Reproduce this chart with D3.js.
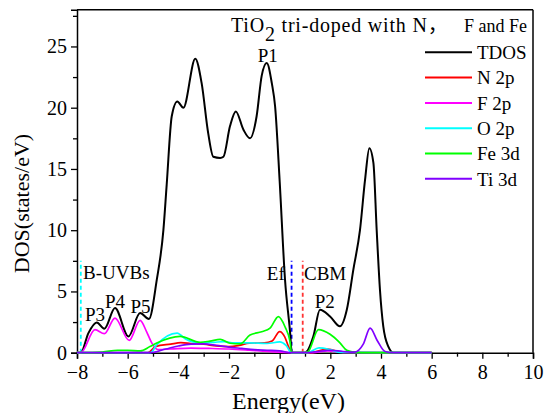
<!DOCTYPE html>
<html>
<head>
<meta charset="utf-8">
<script src="https://cdn.jsdelivr.net/npm/d3@7"></script>
<style>
  html, body { margin: 0; padding: 0; background: #fff; }
  svg { display: block; }
  text { font-family: "Liberation Serif", "Times New Roman", serif; fill: #000; }
  .cjk { font-family: "Noto Sans CJK SC", sans-serif; }
</style>
</head>
<body>
<svg id="chart" width="546" height="413"></svg>
<script>
// Density of states of TiO2 tri-doped with N, F and Fe
const tdosE = [-8, -7.85, -7.55, -7.22, -6.92, -6.5, -5.97, -5.51, -5.16, -4.85, -4.59, -4.46, -4.26, -4.04, -3.8, -3.33, -3.08, -2.82, -2.62, -2.35, -2.22, -1.96, -1.73, -1.43, -1.17, -0.91, -0.71, -0.51, -0.31, -0.18, 0.0, 0.21, 0.41, 0.48, 0.91, 1.0, 1.33, 1.59, 1.99, 2.38, 2.65, 2.91, 3.17, 3.37, 3.54, 3.7, 3.83, 3.96, 4.09, 4.29, 4.5, 6];
const tdosV = [0, 0, 1.6, 2.47, 1.96, 3.65, 1.33, 3.24, 2.75, 5.96, 10.0, 13.7, 19.3, 20.5, 20.0, 24.0, 22.0, 17.9, 16.0, 15.9, 16.0, 18.5, 19.7, 18.2, 17.5, 19.3, 22.6, 23.65, 22.0, 20.1, 14.0, 6.0, 1.7, 0, 0, 0, 1.33, 3.51, 2.96, 2.15, 3.5, 6.8, 10.0, 14.1, 16.7, 15.5, 10.0, 5.1, 2.15, 0.5, 0, 0];

const n2pE = [-8, -5.2, -4.9, -4.3, -3.9, -3.5, -3.0, -2.5, -2.0, -1.6, -1.2, -0.6, -0.3, 0.0, 0.2, 0.35, 0.47, 1.2, 1.9, 2.5, 6];
const n2pV = [0, 0, 0.5, 0.7, 0.82, 0.75, 0.7, 0.55, 0.5, 0.6, 0.78, 0.8, 0.95, 1.72, 1.3, 0.5, 0, 0, 0.3, 0.02, 0];

const f2pE = [-8, -7.85, -7.29, -6.92, -6.5, -5.94, -5.51, -5.25, -5.05, -4.8, -4.3, -3.5, -2.8, -2.0, -1.2, -0.5, 0.0, 0.47, 1.3, 1.9, 2.5, 6];
const f2pV = [0, 0, 1.88, 1.55, 2.83, 1.0, 2.64, 1.7, 0.8, 0.25, 0.3, 0.38, 0.35, 0.3, 0.2, 0.1, 0.05, 0, 0, 0.15, 0.02, 0];

const o2pE = [-8, -5.1, -4.85, -4.05, -3.7, -3.14, -2.6, -2.2, -1.8, -1.2, -0.5, 0.0, 0.25, 0.47, 1.1, 1.55, 2.0, 2.4, 6];
const o2pV = [0, 0, 0.65, 1.6, 1.1, 0.8, 0.85, 0.9, 0.8, 0.8, 0.75, 0.88, 0.6, 0, 0, 0.4, 0.25, 0.03, 0];

const fe3dE = [-8, -7.8, -7.0, -6.4, -6.0, -5.5, -5.12, -4.85, -3.93, -3.14, -2.75, -2.35, -1.96, -1.56, -1.17, -0.71, -0.38, -0.05, 0.21, 0.41, 0.47, 1.0, 1.13, 1.53, 1.99, 2.38, 2.65, 3.0, 3.5, 6];
const fe3dV = [0, 0, 0.05, 0.2, 0.2, 0.15, 0.5, 0.79, 1.33, 0.85, 0.95, 1.09, 0.77, 0.72, 1.44, 1.71, 2.0, 2.94, 2.12, 0.9, 0, 0, 0.1, 1.88, 1.5, 0.8, 0.2, 0.03, 0, 0];

const ti3dE = [-8, -5.1, -4.5, -4.0, -3.5, -3.0, -2.5, -2.0, -1.5, -1.0, -0.5, 0.0, 0.47, 1.0, 1.5, 2.0, 2.5, 2.97, 3.3, 3.57, 3.85, 4.16, 4.5, 6];
const ti3dV = [0, 0, 0.3, 0.55, 0.7, 0.72, 0.6, 0.45, 0.35, 0.25, 0.2, 0.15, 0, 0, 0.1, 0.2, 0.1, 0.05, 0.7, 2.0, 1.0, 0.1, 0, 0];

const seriesNames = ["TDOS", "N 2p", "F 2p", "O 2p", "Fe 3d", "Ti 3d"];
const seriesColors = ["#000000", "#ff0000", "#ff00ff", "#00ffff", "#00ff00", "#8000ff"];
const seriesData = [[tdosE, tdosV], [n2pE, n2pV], [f2pE, f2pV], [o2pE, o2pV], [fe3dE, fe3dV], [ti3dE, ti3dV]];

const xMajorTicks = [-8, -6, -4, -2, 0, 2, 4, 6, 8, 10];
const xMinorTicks = [-7, -5, -3, -1, 1, 3, 5, 7, 9];
const yMajorTicks = [0, 5, 10, 15, 20, 25];
const yMinorTicks = [2.5, 7.5, 12.5, 17.5, 22.5, 27.5];

// Reference energies: bottom of upper valence band, Fermi level, conduction band minimum
const markerEnergies = [-7.85, 0.47, 0.91];
const markerColors = ["#00ffff", "#0000ff", "#ff3333"];
const markerHeight = 7.5;

const SERIF = "'Liberation Serif', 'Times New Roman', serif";
const svg = d3.select("#chart");
const plotL = 77, plotR = 533, plotT = 9.7, plotB = 352.7;
const x = d3.scaleLinear().domain([-8, 10]).range([plotL, plotR]);
const y = d3.scaleLinear().domain([0, 28]).range([plotB, plotT]);

// Axes
const gx = svg.append("g").attr("transform", `translate(0,${plotB})`);
gx.call(d3.axisBottom(x).tickValues(xMajorTicks).tickSize(6).tickPadding(6).tickFormat(d3.format("d")));
const gxm = svg.append("g").attr("transform", `translate(0,${plotB})`);
gxm.call(d3.axisBottom(x).tickValues(xMinorTicks).tickSize(4).tickFormat(""));
const gy = svg.append("g").attr("transform", `translate(${plotL},0)`);
gy.call(d3.axisLeft(y).tickValues(yMajorTicks).tickSize(6).tickPadding(4).tickFormat(d3.format("d")));
const gym = svg.append("g").attr("transform", `translate(${plotL},0)`);
gym.call(d3.axisLeft(y).tickValues(yMinorTicks).tickSize(4).tickFormat(""));

[gx, gy].forEach(g => g.attr("font-family", SERIF).attr("font-size", 20));
svg.selectAll(".domain").attr("stroke", "#000").attr("stroke-width", 1.5);
svg.selectAll(".tick line").attr("stroke", "#000").attr("stroke-width", 1.3);
svg.selectAll(".tick text").style("font-family", SERIF).style("font-size", "20px").attr("fill", "#000");
gxm.select(".domain").remove();
gym.select(".domain").remove();

// Frame top and right
svg.append("line").attr("x1", plotL).attr("x2", plotR).attr("y1", plotT).attr("y2", plotT)
  .attr("stroke", "#000").attr("stroke-width", 1.5);
svg.append("line").attr("x1", plotR).attr("x2", plotR).attr("y1", plotT).attr("y2", plotB)
  .attr("stroke", "#000").attr("stroke-width", 1.5);

// Dashed reference lines
markerEnergies.forEach((e, i) => {
  svg.append("line")
    .attr("x1", x(e)).attr("x2", x(e))
    .attr("y1", y(0)).attr("y2", y(markerHeight))
    .attr("stroke", markerColors[i]).attr("stroke-width", 1.8)
    .attr("stroke-dasharray", "4,3");
});

// DOS curves
const line = d3.line()
  .x(d => x(d[0]))
  .y(d => y(d[1]))
  .curve(d3.curveMonotoneX);

seriesData.forEach((s, i) => {
  const pts = s[0].map((e, k) => [e, s[1][k]]);
  svg.append("path")
    .datum(pts)
    .attr("fill", "none")
    .attr("stroke", seriesColors[i])
    .attr("stroke-width", i === 0 ? 2 : 1.7)
    .attr("stroke-linejoin", "round")
    .attr("d", line);
});

// Title
const title = svg.append("text")
  .attr("x", 231).attr("y", 31.7)
  .style("font-size", "20px")
  .style("letter-spacing", "0.8px");
title.append("tspan").text("TiO");
title.append("tspan").attr("dy", 9).text("2");
title.append("tspan").attr("dy", -9).text(" tri-doped with N");
title.append("tspan").attr("class", "cjk").style("letter-spacing", "0px").text("，");
svg.append("text")
  .attr("x", 527).attr("y", 31.7)
  .attr("text-anchor", "end")
  .style("font-size", "18px")
  .text("F and Fe");

// Legend
seriesNames.forEach((name, i) => {
  const ly = 52.3 + i * 25.3;
  svg.append("line").attr("x1", 425).attr("x2", 472).attr("y1", ly).attr("y2", ly)
    .attr("stroke", seriesColors[i]).attr("stroke-width", 2);
  svg.append("text").attr("x", 477).attr("y", ly + 6.8)
    .style("font-size", "19px").text(name);
});

// Peak and level annotations
const notes = [
  { t: "P1", px: x(-0.47), py: 61.5, a: "middle" },
  { t: "P2", px: x(1.78), py: 307.5, a: "middle" },
  { t: "P3", px: x(-7.29), py: 321, a: "middle" },
  { t: "P4", px: x(-6.5), py: 308, a: "middle" },
  { t: "P5", px: x(-5.49), py: 313, a: "middle" },
  { t: "B-UVBs", px: x(-7.76), py: 278.5, a: "start" },
  { t: "Ef", px: x(0.2), py: 280, a: "end" },
  { t: "CBM", px: x(0.96), py: 280, a: "start" }
];
notes.forEach(n => {
  svg.append("text").attr("x", n.px).attr("y", n.py)
    .attr("text-anchor", n.a).style("font-size", "19px").text(n.t);
});

// Axis titles
svg.append("text")
  .attr("x", 288.5).attr("y", 409)
  .attr("text-anchor", "middle")
  .style("font-size", "24px")
  .text("Energy(eV)");
svg.append("text")
  .attr("transform", "translate(28.5,203.5) rotate(-90)")
  .attr("text-anchor", "middle")
  .style("font-size", "22px")
  .text("DOS(states/eV)");
</script>
</body>
</html>
